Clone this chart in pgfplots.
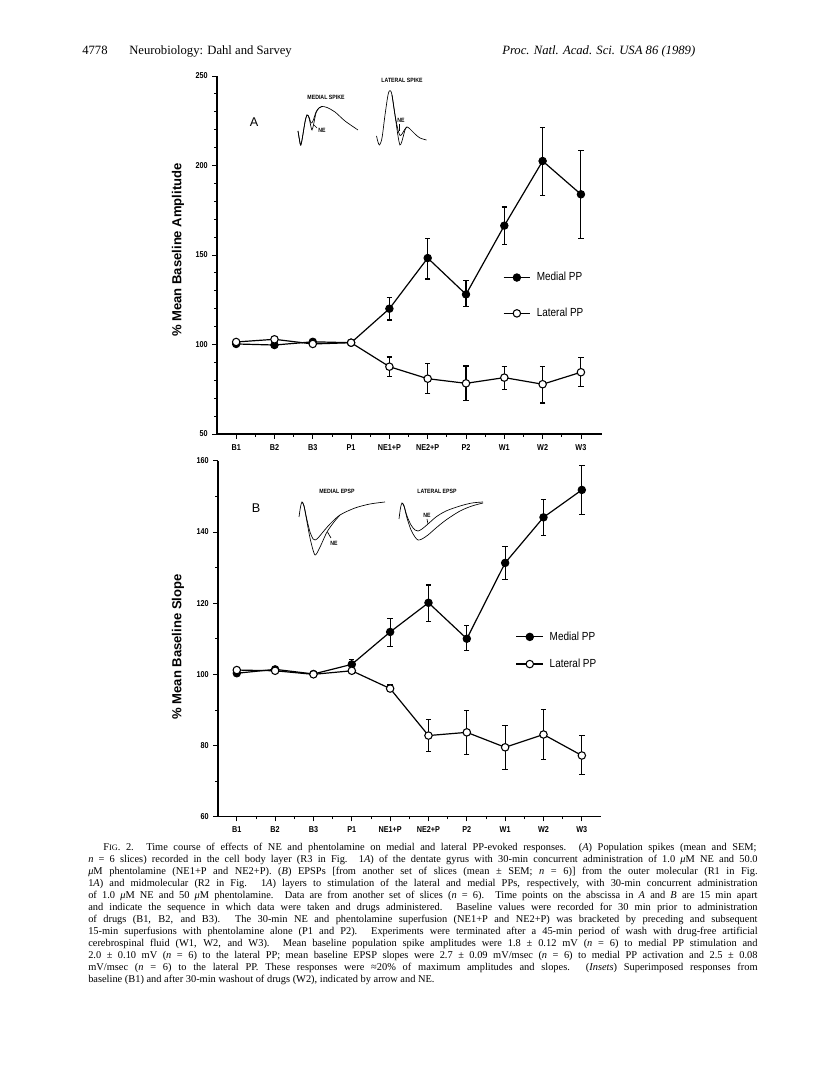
\documentclass[border=0pt]{standalone}
\usepackage{fontspec}
\setmainfont{Liberation Serif}
\setsansfont{Liberation Sans}
\newfontfamily\narrow[FakeStretch=0.85]{Liberation Sans}
\usepackage{pgfplots}
\pgfplotsset{compat=1.18}

\newcommand\fs[1]{\fontsize{#1}{#1}\selectfont}

\pgfplotsset{
  dahl/.style={
    scale only axis, axis lines*=left, clip=false,
    xmin=0.5, xtick={1,...,10},
    xticklabels={B1,B2,B3,P1,NE1+P,NE2+P,P2,W1,W2,W3},
    minor x tick num=1,
    tick align=outside,
    major tick length=3.5pt, minor tick length=2pt,
    every tick/.style={black, line width=0.6pt},
    axis line style={black, line width=0.8pt},
    tick label style={font=\narrow\bfseries\fs{6.4}},
    xticklabel style={anchor=north, text height=5pt, text depth=0pt},
    /pgf/number format/assume math mode=true,
    legend cell align=left,
    legend image code/.code={\draw[mark repeat=2,mark phase=2,##1] plot coordinates {(0pt,0pt) (10pt,0pt) (20pt,0pt)};},
    legend style={draw=none, fill=none, font=\narrow\fs{8.8}, inner sep=0pt, anchor=west, nodes={inner sep=1.5pt}},
  },
  medial/.style={black, line width=0.9pt, mark=*, mark size=2.8pt,
    mark options={fill=black, line width=0.7pt},
    error bars/.cd, y dir=both, y explicit,
    error bar style={line width=0.8pt},
    error mark options={rotate=90, mark size=2pt, line width=0.8pt}},
  lateral/.style={black, line width=0.9pt, mark=*, mark size=2.8pt,
    mark options={fill=white, line width=0.8pt},
    error bars/.cd, y dir=both, y explicit,
    error bar style={line width=0.8pt},
    error mark options={rotate=90, mark size=2pt, line width=0.8pt}},
}

\begin{document}
\begin{tikzpicture}
\path[use as bounding box, fill=white] (0,0) rectangle (612pt,806.25pt);

% ---------- panel A ----------
\begin{axis}[dahl, at={(162.75pt,480.75pt)}, anchor=south west,
  width=288.75pt, height=268.5pt, xmax=10.55,
  ymin=50, ymax=250, ytick={50,100,...,250}, minor y tick num=4,
  legend style={at={(0.742,0.387)}, row sep=16pt, column sep=3pt}]
\addplot[medial] coordinates {
  (1,100.3) += (0,0.5) -= (0,0.5)
  (2,99.7)  += (0,0.8) -= (0,0.8)
  (3,101.5) += (0,0.8) -= (0,0.8)
  (4,101.0) += (0,0.5) -= (0,0.5)
  (5,120.0) += (0,6.2) -= (0,6.3)
  (6,148.3) += (0,11.0) -= (0,11.7)
  (7,128.0) += (0,7.5) -= (0,6.9)
  (8,166.4) += (0,10.4) -= (0,10.3)
  (9,202.5) += (0,18.8) -= (0,19.5)
  (10,183.9) += (0,24.6) -= (0,24.9)
};
\addlegendentry{Medial PP}
\addplot[lateral] coordinates {
  (1,101.4) += (0,0.5) -= (0,0.5)
  (2,102.9) += (0,0.5) -= (0,0.5)
  (3,100.3) += (0,0.5) -= (0,0.5)
  (4,101.0) += (0,0.5) -= (0,0.5)
  (5,87.6)  += (0,5.4) -= (0,5.4)
  (6,80.9)  += (0,8.6) -= (0,8.2)
  (7,78.3)  += (0,9.7) -= (0,9.7)
  (8,81.5)  += (0,6.1) -= (0,6.4)
  (9,77.8)  += (0,9.8) -= (0,10.5)
  (10,84.5) += (0,8.1) -= (0,8.2)
};
\addlegendentry{Lateral PP}
\end{axis}

% ---------- panel B ----------
\begin{axis}[dahl, at={(163.5pt,193.7pt)}, anchor=south west,
  width=287.25pt, height=267pt, xmin=0.51, xmax=10.5,
  ymin=60, ymax=160, ytick={60,80,...,160}, minor y tick num=1,
  legend style={at={(0.777,0.467)}, row sep=9.5pt, column sep=3pt}]
\addplot[medial] coordinates {
  (1,100.3) += (0,0.4) -= (0,0.4)
  (2,101.4) += (0,0.5) -= (0,0.5)
  (3,100.1) += (0,0.4) -= (0,0.4)
  (4,102.8) += (0,1.4) -= (0,1.4)
  (5,111.9) += (0,3.8) -= (0,4.1)
  (6,120.1) += (0,5.0) -= (0,5.3)
  (7,110.0) += (0,3.6) -= (0,3.4)
  (8,131.3) += (0,4.7) -= (0,4.6)
  (9,144.1) += (0,5.1) -= (0,5.2)
  (10,151.8) += (0,6.8) -= (0,6.8)
};
\addlegendentry{Medial PP}
\addplot[lateral] coordinates {
  (1,101.2) += (0,0.4) -= (0,0.4)
  (2,101.0) += (0,0.4) -= (0,0.4)
  (3,100.0) += (0,0.4) -= (0,0.4)
  (4,101.0) += (0,0.4) -= (0,0.4)
  (5,96.0)  += (0,1.0) -= (0,0.5)
  (6,82.8)  += (0,4.4) -= (0,4.5)
  (7,83.7)  += (0,6.1) -= (0,6.2)
  (8,79.5)  += (0,6.1) -= (0,6.2)
  (9,83.1)  += (0,7.1) -= (0,7.0)
  (10,77.2) += (0,5.5) -= (0,5.3)
};
\addlegendentry{Lateral PP}
\end{axis}

% ---------- page text and insets (pixel coordinates, y down) ----------
\begin{scope}[x=0.75pt, y=-0.75pt, yshift=806.25pt]
% running head
\node[anchor=base west, inner sep=0pt, font=\fs{9.5}] at (82,55) {4778};
\node[anchor=base west, inner sep=0pt, font=\fs{9.5}] at (129,55) {Neurobiology: Dahl and Sarvey};
\node[anchor=base west, inner sep=0pt, font=\fs{9.5}\itshape] at (502,55) {Proc. Natl. Acad. Sci. USA 86 (1989)};

% axis titles
\node[rotate=90, font=\sffamily\bfseries\fs{9.8}] at (178,250) {\% Mean Baseline Amplitude};
\node[rotate=90, font=\sffamily\bfseries\fs{9.8}] at (178,647) {\% Mean Baseline Slope};
\node[font=\sffamily\fs{9.5}] at (254,122) {A};
\node[font=\sffamily\fs{9.5}] at (256,508) {B};

% inset labels
\begin{scope}[font=\narrow\bfseries\fs{4.6}]
\node at (326,97) {MEDIAL SPIKE};
\node at (402,80) {LATERAL SPIKE};
\node at (337,491) {MEDIAL EPSP};
\node at (437,491) {LATERAL EPSP};
\node at (322,130) {NE};
\node at (401,120) {NE};
\node at (334,543) {NE};
\node at (427,515) {NE};
\end{scope}

% inset traces
\begin{scope}[line width=0.5pt]
\draw plot[smooth] coordinates {(298,131) (299.5,140) (300.5,145) (302,140) (305,122) (307,115) (309,118) (311,127) (312,130) (313.5,125) (316,113) (319,108) (322,106.5) (327,107.5) (335,112) (345,121) (358,130)};
\draw plot[smooth] coordinates {(298,131) (300.5,145) (302,140) (305,122) (307,115) (309,117) (311,123) (313,121) (316,112) (319,108) (322,106.5)};
\draw (317,128) -- (313.5,124.5);

\draw plot[smooth] coordinates {(376.5,136) (378,142) (379.5,145) (382,138) (385,115) (388,95) (390,90.5) (392,95) (395,115) (398,136) (400,145) (402,141) (405,130) (407,127) (410,129) (415,134) (420,138) (426.5,140)};
\draw plot[smooth] coordinates {(392,95) (395,115) (398,130) (400,135.5) (402,134) (405,129) (407,127)};
\draw (399.5,124) -- (399.5,131);

\draw plot[smooth] coordinates {(299,517) (300.5,507) (302,502) (304,506) (307,520) (310,532) (313,539) (315,540) (318,538) (323,532) (330,524) (340,515) (355,508) (370,504) (385,502)};
\draw plot[smooth] coordinates {(302,502) (304,506) (307,522) (310,538) (313,550) (315,555) (317,553) (321,545) (327,532) (334,522) (340,515)};
\draw (331,538) -- (327.5,532);

\draw plot[smooth] coordinates {(399,519) (400.5,508) (402,503) (404,506) (407,516) (411,525) (415,530) (418,531) (422,529) (428,524) (436,517) (446,511) (460,506) (472,503) (483,502)};
\draw plot[smooth] coordinates {(402,503) (404,506) (407,518) (411,530) (415,537) (418,540) (422,539) (428,535) (436,528) (446,520) (460,511) (472,506) (483,503)};
\draw (427,519) -- (428,524);
\end{scope}

% caption
\begin{scope}[every node/.style={anchor=base west, inner sep=0pt, font=\fs{7.8}}]
\node at (103,851) {\makebox[490pt][s]{F{\fs{6.2}IG}. 2.\hspace{1.2em}Time course of effects of NE and phentolamine on medial and lateral PP-evoked responses. (\textit{A}) Population spikes (mean and SEM;}};
\node at (88,863) {\makebox[502pt][s]{\textit{n} = 6 slices) recorded in the cell body layer (R3 in Fig. 1\textit{A}) of the dentate gyrus with 30-min concurrent administration of 1.0 \textit{μ}M NE and 50.0}};
\node at (88,875) {\makebox[502pt][s]{\textit{μ}M phentolamine (NE1+P and NE2+P). (\textit{B}) EPSPs [from another set of slices (mean ± SEM; \textit{n} = 6)] from the outer molecular (R1 in Fig.}};
\node at (88,887) {\makebox[502pt][s]{1\textit{A}) and midmolecular (R2 in Fig. 1\textit{A}) layers to stimulation of the lateral and medial PPs, respectively, with 30-min concurrent administration}};
\node at (88,899) {\makebox[502pt][s]{of 1.0 \textit{μ}M NE and 50 \textit{μ}M phentolamine. Data are from another set of slices (\textit{n} = 6). Time points on the abscissa in \textit{A} and \textit{B} are 15 min apart}};
\node at (88,911) {\makebox[502pt][s]{and indicate the sequence in which data were taken and drugs administered. Baseline values were recorded for 30 min prior to administration}};
\node at (88,923) {\makebox[502pt][s]{of drugs (B1, B2, and B3). The 30-min NE and phentolamine superfusion (NE1+P and NE2+P) was bracketed by preceding and subsequent}};
\node at (88,935) {\makebox[502pt][s]{15-min superfusions with phentolamine alone (P1 and P2). Experiments were terminated after a 45-min period of wash with drug-free artificial}};
\node at (88,947) {\makebox[502pt][s]{cerebrospinal fluid (W1, W2, and W3). Mean baseline population spike amplitudes were 1.8 ± 0.12 mV (\textit{n} = 6) to medial PP stimulation and}};
\node at (88,959) {\makebox[502pt][s]{2.0 ± 0.10 mV (\textit{n} = 6) to the lateral PP; mean baseline EPSP slopes were 2.7 ± 0.09 mV/msec (\textit{n} = 6) to medial PP activation and 2.5 ± 0.08}};
\node at (88,971) {\makebox[502pt][s]{mV/msec (\textit{n} = 6) to the lateral PP. These responses were ≈20\% of maximum amplitudes and slopes. (\textit{Insets}) Superimposed responses from}};
\node at (88,983) {baseline (B1) and after 30-min washout of drugs (W2), indicated by arrow and NE.};
\end{scope}
\end{scope}
\end{tikzpicture}
\end{document}
